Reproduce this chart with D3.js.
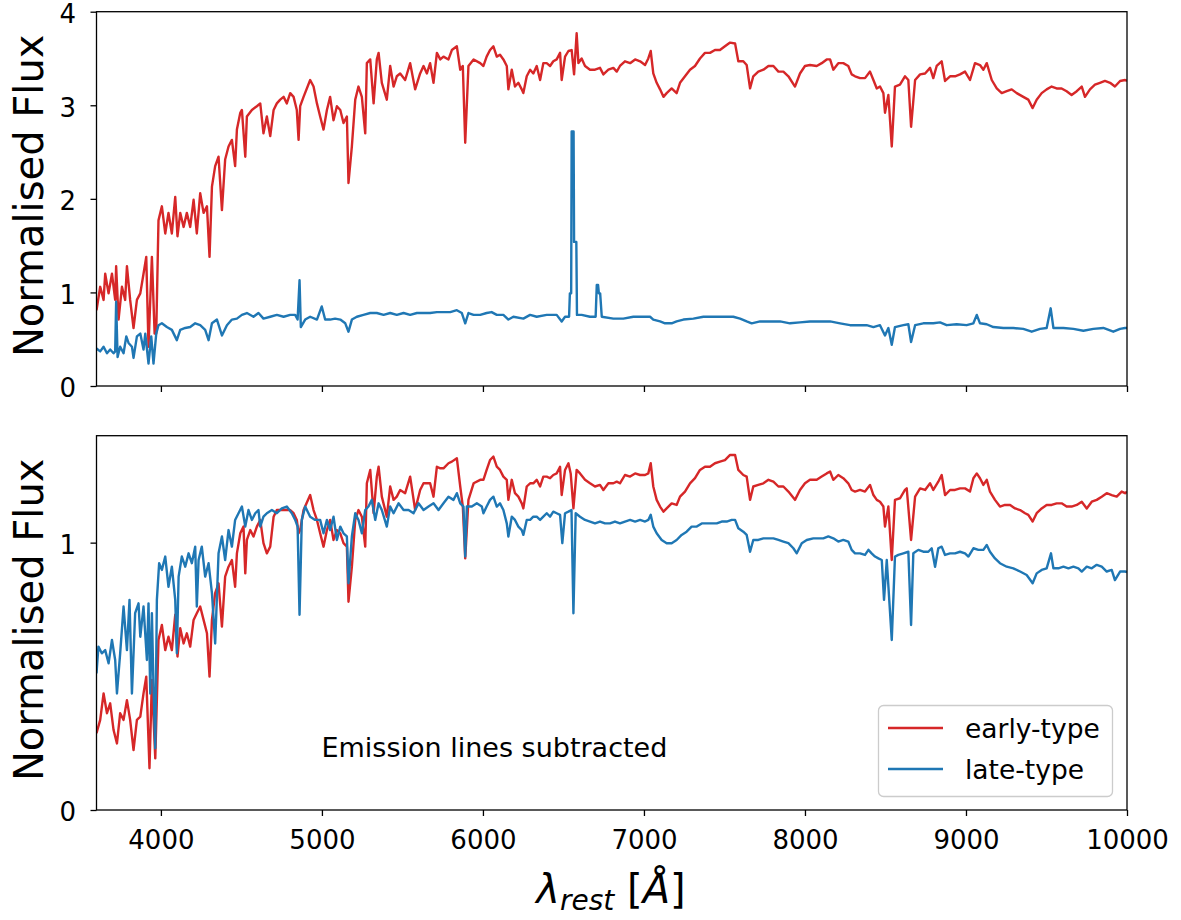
<!DOCTYPE html>
<html><head><meta charset="utf-8">
<script src="https://cdn.jsdelivr.net/npm/d3@7"></script>
<style>
body{margin:0;background:#fff;}
svg{display:block;font-family:"DejaVu Sans",sans-serif;}
</style></head><body>
<svg id="c" width="1181" height="920"></svg>
<script>
const xTicks=[4000,5000,6000,7000,8000,9000,10000];
const topYTicks=[0,1,2,3,4];
const botYTicks=[0,1];
const seriesNames=["early-type","late-type"];
const seriesColors=["#d62728","#1f77b4"];

// top panel: early-type (wavelength [A], normalised flux)
const earlyTop=[[3600,0.81],[3623,1.06],[3644,0.92],[3654,1.20],[3675,0.99],[3696,1.20],[3716,0.92],[3722,1.28],[3737,0.71],[3758,1.06],[3778,0.92],[3789,1.28],[3809,0.92],[3830,0.62],[3851,0.92],[3872,0.99],[3892,1.20],[3909,1.38],[3923,0.42],[3944,1.38],[3961,0.56],[3971,0.56],[3985,1.77],[4006,1.92],[4027,1.63],[4047,1.85],[4068,1.63],[4089,2.02],[4103,1.60],[4120,1.85],[4141,1.70],[4161,1.85],[4182,1.70],[4203,1.99],[4223,1.63],[4244,2.06],[4265,1.85],[4286,1.92],[4302,1.38],[4317,2.13],[4337,2.35],[4358,2.45],[4379,1.88],[4399,2.42],[4420,2.56],[4441,2.63],[4461,2.35],[4472,2.74],[4493,2.92],[4503,2.95],[4524,2.45],[4534,2.88],[4565,2.95],[4596,2.99],[4617,3.02],[4637,2.70],[4658,2.88],[4679,2.67],[4700,2.95],[4720,3.02],[4741,3.06],[4762,3.09],[4782,3.02],[4803,3.13],[4824,3.09],[4844,2.95],[4855,2.63],[4865,2.99],[4886,3.09],[4927,3.27],[4948,3.20],[4969,3.02],[4989,2.88],[5010,2.74],[5031,2.95],[5051,3.09],[5072,2.84],[5093,2.99],[5114,2.95],[5134,2.81],[5155,2.88],[5165,2.17],[5186,2.56],[5207,3.06],[5227,3.20],[5248,3.09],[5269,2.70],[5279,3.45],[5300,3.49],[5321,3.02],[5341,3.49],[5352,3.56],[5372,3.24],[5403,3.06],[5424,3.42],[5445,3.20],[5465,3.31],[5486,3.34],[5517,3.27],[5548,3.45],[5579,3.17],[5610,3.34],[5631,3.42],[5652,3.34],[5672,3.45],[5693,3.24],[5714,3.56],[5735,3.49],[5755,3.52],[5786,3.49],[5807,3.59],[5838,3.63],[5859,3.38],[5875,3.42],[5890,2.60],[5910,3.42],[5942,3.49],[5983,3.45],[6003,3.42],[6023,3.52],[6044,3.59],[6065,3.63],[6086,3.52],[6106,3.54],[6127,3.49],[6148,3.42],[6158,3.17],[6179,3.38],[6199,3.20],[6220,3.24],[6241,3.17],[6251,3.13],[6272,3.31],[6293,3.38],[6313,3.34],[6334,3.42],[6355,3.27],[6375,3.45],[6396,3.45],[6417,3.42],[6437,3.47],[6458,3.49],[6479,3.56],[6489,3.27],[6510,3.52],[6531,3.58],[6551,3.59],[6566,3.33],[6582,3.77],[6593,3.45],[6613,3.50],[6634,3.42],[6665,3.38],[6696,3.38],[6727,3.40],[6748,3.33],[6779,3.38],[6810,3.40],[6831,3.36],[6851,3.42],[6882,3.47],[6914,3.45],[6945,3.49],[6976,3.47],[7007,3.43],[7027,3.50],[7042,3.58],[7058,3.34],[7079,3.24],[7100,3.17],[7121,3.09],[7141,3.13],[7172,3.18],[7203,3.13],[7224,3.24],[7255,3.31],[7286,3.38],[7317,3.42],[7348,3.50],[7379,3.56],[7410,3.56],[7441,3.59],[7472,3.59],[7503,3.63],[7535,3.67],[7566,3.66],[7586,3.47],[7617,3.47],[7638,3.43],[7659,3.18],[7679,3.31],[7710,3.36],[7742,3.38],[7773,3.42],[7804,3.42],[7835,3.36],[7866,3.36],[7897,3.31],[7938,3.20],[7969,3.34],[8000,3.42],[8031,3.43],[8073,3.42],[8104,3.45],[8135,3.49],[8156,3.49],[8176,3.38],[8207,3.45],[8238,3.45],[8269,3.42],[8290,3.33],[8311,3.31],[8342,3.29],[8373,3.29],[8404,3.36],[8425,3.27],[8446,3.18],[8466,3.20],[8487,3.13],[8497,2.92],[8518,3.11],[8539,2.56],[8559,3.20],[8590,3.22],[8621,3.31],[8642,3.27],[8659,2.77],[8684,3.27],[8715,3.33],[8746,3.34],[8777,3.40],[8797,3.29],[8818,3.42],[8849,3.47],[8870,3.26],[8901,3.31],[8932,3.31],[8963,3.33],[8994,3.36],[9025,3.27],[9056,3.45],[9087,3.43],[9108,3.38],[9129,3.45],[9160,3.27],[9191,3.18],[9222,3.13],[9253,3.15],[9284,3.17],[9315,3.13],[9356,3.09],[9387,3.06],[9414,2.97],[9439,3.06],[9470,3.13],[9501,3.17],[9532,3.20],[9563,3.18],[9594,3.18],[9625,3.15],[9656,3.11],[9688,3.15],[9719,3.20],[9739,3.09],[9770,3.17],[9801,3.22],[9832,3.24],[9863,3.26],[9895,3.24],[9925,3.20],[9957,3.26],[9988,3.27],[10000,3.26]];

// top panel: late-type
const lateTop=[[3600,0.40],[3623,0.37],[3644,0.42],[3665,0.35],[3685,0.39],[3706,0.35],[3716,0.37],[3722,0.90],[3731,0.31],[3747,0.42],[3768,0.35],[3785,0.53],[3799,0.46],[3820,0.42],[3830,0.30],[3851,0.53],[3872,0.56],[3892,0.39],[3903,0.56],[3923,0.24],[3940,0.53],[3954,0.24],[3971,0.56],[3985,0.65],[4006,0.67],[4037,0.63],[4068,0.60],[4099,0.49],[4120,0.60],[4151,0.62],[4182,0.63],[4213,0.67],[4244,0.65],[4275,0.60],[4296,0.49],[4317,0.67],[4348,0.71],[4379,0.54],[4410,0.65],[4441,0.71],[4472,0.72],[4503,0.76],[4534,0.78],[4575,0.74],[4606,0.78],[4637,0.72],[4679,0.74],[4720,0.76],[4762,0.74],[4803,0.76],[4834,0.76],[4849,0.71],[4861,1.13],[4869,0.63],[4896,0.71],[4927,0.74],[4969,0.71],[4999,0.85],[5020,0.71],[5051,0.71],[5082,0.72],[5114,0.71],[5145,0.67],[5165,0.58],[5186,0.71],[5217,0.74],[5258,0.76],[5300,0.78],[5341,0.78],[5383,0.76],[5424,0.78],[5465,0.76],[5507,0.78],[5548,0.76],[5590,0.78],[5631,0.78],[5672,0.78],[5714,0.79],[5755,0.79],[5797,0.79],[5838,0.81],[5869,0.78],[5890,0.67],[5910,0.78],[5942,0.76],[5983,0.76],[6023,0.78],[6054,0.79],[6086,0.76],[6127,0.76],[6158,0.71],[6189,0.74],[6251,0.72],[6293,0.76],[6334,0.74],[6396,0.76],[6458,0.76],[6489,0.69],[6510,0.74],[6535,0.74],[6540,0.99],[6548,0.99],[6551,2.72],[6563,2.72],[6566,1.54],[6580,1.54],[6584,0.76],[6613,0.76],[6665,0.74],[6700,0.74],[6707,1.08],[6715,1.08],[6720,0.99],[6728,0.99],[6738,0.74],[6810,0.72],[6872,0.72],[6934,0.74],[6996,0.74],[7038,0.74],[7058,0.71],[7100,0.69],[7131,0.67],[7172,0.67],[7203,0.69],[7245,0.71],[7307,0.72],[7369,0.74],[7431,0.74],[7493,0.74],[7555,0.74],[7597,0.72],[7638,0.69],[7669,0.67],[7721,0.69],[7783,0.69],[7845,0.69],[7907,0.67],[7969,0.68],[8031,0.69],[8093,0.69],[8156,0.69],[8218,0.67],[8280,0.65],[8342,0.65],[8383,0.65],[8425,0.63],[8466,0.65],[8497,0.54],[8518,0.62],[8539,0.44],[8559,0.63],[8611,0.65],[8642,0.66],[8659,0.47],[8684,0.65],[8735,0.67],[8797,0.67],[8839,0.68],[8880,0.65],[8942,0.66],[9004,0.65],[9046,0.67],[9067,0.76],[9087,0.67],[9129,0.66],[9170,0.63],[9232,0.62],[9294,0.62],[9356,0.61],[9408,0.58],[9460,0.61],[9501,0.62],[9526,0.83],[9543,0.62],[9605,0.62],[9667,0.61],[9729,0.59],[9791,0.61],[9853,0.62],[9915,0.58],[9957,0.61],[9988,0.62],[10000,0.62]];

// bottom panel (emission lines subtracted): early-type
const earlyBottom=[[3600,0.287],[3623,0.337],[3644,0.436],[3665,0.362],[3685,0.399],[3706,0.299],[3727,0.249],[3747,0.362],[3768,0.337],[3789,0.411],[3809,0.337],[3830,0.224],[3851,0.337],[3872,0.349],[3892,0.436],[3909,0.499],[3929,0.156],[3944,0.486],[3965,0.193],[3985,0.636],[4006,0.692],[4027,0.598],[4047,0.648],[4068,0.598],[4089,0.730],[4103,0.574],[4120,0.680],[4141,0.623],[4161,0.661],[4182,0.611],[4203,0.711],[4223,0.736],[4244,0.761],[4265,0.711],[4286,0.661],[4302,0.499],[4317,0.711],[4337,0.811],[4358,0.848],[4379,0.686],[4399,0.873],[4420,0.910],[4441,0.935],[4461,0.835],[4472,0.960],[4493,1.035],[4513,1.060],[4524,0.885],[4534,1.010],[4555,1.047],[4575,1.023],[4596,1.060],[4617,1.085],[4637,0.998],[4658,0.960],[4679,0.985],[4700,1.097],[4720,1.122],[4762,1.122],[4803,1.122],[4824,1.110],[4844,1.085],[4855,1.035],[4865,1.047],[4886,1.122],[4927,1.178],[4948,1.122],[4969,1.085],[4989,1.035],[5010,0.985],[5031,1.047],[5051,1.085],[5072,1.010],[5093,1.047],[5114,1.035],[5134,0.998],[5155,0.985],[5165,0.779],[5186,0.910],[5207,1.085],[5227,1.122],[5248,1.097],[5269,0.985],[5279,1.222],[5300,1.272],[5321,1.110],[5341,1.247],[5352,1.284],[5372,1.172],[5403,1.097],[5424,1.210],[5445,1.160],[5465,1.172],[5486,1.197],[5517,1.185],[5548,1.247],[5579,1.122],[5610,1.197],[5631,1.222],[5652,1.222],[5672,1.222],[5693,1.172],[5714,1.284],[5735,1.278],[5755,1.278],[5786,1.297],[5807,1.303],[5838,1.316],[5859,1.210],[5875,1.135],[5890,0.941],[5910,1.160],[5942,1.222],[5983,1.235],[6003,1.235],[6023,1.272],[6044,1.309],[6065,1.322],[6086,1.284],[6106,1.272],[6127,1.247],[6148,1.235],[6158,1.160],[6179,1.235],[6199,1.185],[6220,1.172],[6241,1.147],[6251,1.128],[6272,1.210],[6293,1.222],[6313,1.222],[6334,1.235],[6355,1.210],[6375,1.247],[6396,1.247],[6417,1.241],[6437,1.253],[6458,1.259],[6479,1.284],[6489,1.178],[6510,1.272],[6531,1.297],[6545,1.259],[6562,1.128],[6582,1.272],[6603,1.259],[6634,1.235],[6665,1.222],[6696,1.210],[6727,1.216],[6748,1.197],[6779,1.222],[6810,1.222],[6831,1.228],[6851,1.222],[6882,1.253],[6914,1.247],[6945,1.259],[6976,1.253],[7007,1.253],[7027,1.259],[7042,1.297],[7058,1.210],[7079,1.160],[7100,1.135],[7121,1.116],[7141,1.128],[7172,1.147],[7203,1.141],[7224,1.172],[7255,1.191],[7286,1.222],[7317,1.241],[7348,1.272],[7379,1.284],[7410,1.284],[7441,1.297],[7472,1.303],[7503,1.309],[7535,1.328],[7566,1.328],[7586,1.272],[7617,1.253],[7638,1.247],[7659,1.160],[7679,1.210],[7710,1.216],[7742,1.222],[7773,1.235],[7804,1.228],[7835,1.210],[7866,1.210],[7897,1.191],[7938,1.160],[7969,1.197],[8000,1.222],[8031,1.235],[8073,1.235],[8104,1.247],[8135,1.259],[8156,1.266],[8176,1.235],[8207,1.253],[8238,1.241],[8269,1.222],[8290,1.197],[8311,1.191],[8342,1.197],[8373,1.191],[8404,1.216],[8425,1.178],[8446,1.160],[8466,1.153],[8487,1.135],[8497,1.060],[8518,1.135],[8539,0.935],[8559,1.160],[8590,1.166],[8621,1.197],[8632,1.203],[8659,1.010],[8684,1.172],[8715,1.203],[8746,1.197],[8777,1.222],[8797,1.197],[8828,1.228],[8849,1.253],[8870,1.178],[8901,1.197],[8932,1.197],[8963,1.203],[8994,1.203],[9025,1.191],[9046,1.241],[9067,1.259],[9087,1.241],[9108,1.216],[9129,1.235],[9149,1.191],[9180,1.160],[9211,1.135],[9242,1.141],[9274,1.141],[9305,1.128],[9336,1.122],[9367,1.110],[9387,1.104],[9414,1.079],[9439,1.110],[9470,1.128],[9501,1.141],[9532,1.141],[9563,1.147],[9594,1.147],[9625,1.135],[9656,1.135],[9688,1.141],[9719,1.153],[9750,1.128],[9781,1.153],[9812,1.160],[9843,1.172],[9874,1.185],[9905,1.178],[9936,1.172],[9967,1.191],[9988,1.185],[10000,1.19]];

// bottom panel (emission lines subtracted): late-type
const lateBottom=[[3600,0.511],[3612,0.611],[3633,0.586],[3654,0.598],[3675,0.549],[3696,0.636],[3716,0.561],[3727,0.436],[3747,0.586],[3768,0.761],[3789,0.598],[3805,0.786],[3820,0.436],[3840,0.736],[3861,0.773],[3872,0.648],[3892,0.761],[3913,0.561],[3923,0.773],[3934,0.436],[3944,0.736],[3954,0.461],[3965,0.231],[3975,0.786],[3989,0.923],[4006,0.898],[4027,0.948],[4047,0.835],[4068,0.910],[4089,0.786],[4099,0.586],[4110,0.873],[4130,0.948],[4151,0.910],[4172,0.960],[4192,0.923],[4213,0.985],[4223,0.761],[4234,0.935],[4254,0.985],[4275,0.873],[4296,0.923],[4317,0.811],[4337,0.623],[4358,0.960],[4379,1.023],[4399,0.935],[4420,1.047],[4441,0.985],[4461,1.085],[4482,1.110],[4503,1.135],[4524,1.060],[4544,1.122],[4565,1.085],[4586,1.110],[4606,1.122],[4617,1.060],[4637,1.097],[4658,1.110],[4689,1.122],[4720,1.110],[4751,1.128],[4782,1.135],[4813,1.110],[4834,1.085],[4849,1.060],[4861,0.730],[4875,1.085],[4896,1.135],[4927,1.097],[4958,1.085],[4989,1.085],[5010,1.035],[5031,1.085],[5051,1.047],[5072,1.097],[5093,1.010],[5114,1.060],[5134,1.035],[5155,1.023],[5165,0.848],[5186,1.023],[5207,1.110],[5227,1.085],[5248,1.035],[5269,1.122],[5289,1.135],[5310,1.160],[5331,1.085],[5352,1.147],[5372,1.122],[5403,1.060],[5424,1.135],[5445,1.110],[5476,1.147],[5507,1.122],[5538,1.122],[5569,1.110],[5600,1.147],[5631,1.122],[5662,1.135],[5693,1.147],[5724,1.122],[5755,1.147],[5786,1.172],[5817,1.160],[5838,1.185],[5859,1.147],[5879,1.135],[5890,0.948],[5900,1.135],[5931,1.135],[5962,1.147],[5993,1.135],[6003,1.110],[6023,1.135],[6044,1.160],[6065,1.172],[6086,1.135],[6106,1.147],[6127,1.122],[6148,1.072],[6158,1.023],[6179,1.097],[6199,1.085],[6220,1.060],[6241,1.047],[6251,1.029],[6272,1.085],[6293,1.085],[6313,1.097],[6334,1.097],[6355,1.085],[6375,1.097],[6396,1.110],[6417,1.097],[6437,1.116],[6458,1.110],[6479,1.104],[6493,0.998],[6510,1.110],[6531,1.116],[6550,1.122],[6562,0.736],[6576,1.110],[6603,1.097],[6634,1.085],[6665,1.079],[6696,1.072],[6727,1.079],[6758,1.072],[6789,1.072],[6820,1.079],[6851,1.072],[6882,1.079],[6914,1.085],[6945,1.079],[6976,1.085],[7007,1.079],[7027,1.085],[7042,1.104],[7058,1.060],[7079,1.035],[7110,1.010],[7141,0.998],[7172,0.998],[7203,1.010],[7234,1.029],[7265,1.041],[7296,1.060],[7328,1.060],[7359,1.072],[7390,1.072],[7421,1.072],[7452,1.072],[7483,1.079],[7514,1.079],[7545,1.085],[7566,1.085],[7586,1.054],[7617,1.041],[7638,1.029],[7659,0.966],[7679,1.010],[7710,1.010],[7742,1.016],[7773,1.016],[7804,1.016],[7835,1.010],[7866,1.004],[7897,0.998],[7928,0.979],[7949,0.960],[7980,0.998],[8011,1.010],[8052,1.016],[8083,1.016],[8114,1.016],[8145,1.023],[8176,1.016],[8207,1.004],[8238,1.010],[8269,1.004],[8290,0.973],[8311,0.960],[8342,0.960],[8373,0.954],[8394,0.973],[8414,0.960],[8435,0.948],[8456,0.941],[8477,0.935],[8491,0.786],[8508,0.935],[8539,0.636],[8559,0.948],[8580,0.954],[8611,0.960],[8642,0.966],[8659,0.692],[8673,0.960],[8704,0.973],[8735,0.966],[8766,0.966],[8787,0.979],[8808,0.910],[8828,0.979],[8849,0.985],[8870,0.954],[8901,0.960],[8932,0.960],[8963,0.966],[8994,0.960],[9015,0.948],[9046,0.979],[9077,0.973],[9108,0.973],[9129,0.991],[9149,0.966],[9180,0.941],[9211,0.923],[9253,0.910],[9294,0.904],[9336,0.892],[9377,0.879],[9414,0.848],[9439,0.885],[9470,0.898],[9501,0.904],[9528,0.960],[9543,0.904],[9574,0.904],[9605,0.910],[9636,0.904],[9667,0.910],[9698,0.904],[9719,0.892],[9750,0.910],[9781,0.904],[9812,0.917],[9843,0.910],[9874,0.892],[9905,0.898],[9925,0.860],[9957,0.892],[9988,0.892],[10000,0.89]];

const svg=d3.select('#c');
const x=d3.scaleLinear().domain([3600,10000]).range([96.5,1127]);
const panels=[
  {id:'top',y:d3.scaleLinear().domain([0,4]).range([386,11.7]),ticks:topYTicks,series:[earlyTop,lateTop],showX:false},
  {id:'bot',y:d3.scaleLinear().domain([0,1.4]).range([810,435.7]),ticks:botYTicks,series:[earlyBottom,lateBottom],showX:true}
];
const defs=svg.append('defs');
panels.forEach(p=>{
  const [y0,y1]=p.y.range();
  const [x0,x1]=x.range();
  defs.append('clipPath').attr('id','clip-'+p.id).append('rect')
    .attr('x',x0).attr('y',y1).attr('width',x1-x0).attr('height',y0-y1);
  const g=svg.append('g');
  const line=d3.line().x(d=>x(d[0])).y(d=>p.y(d[1]));
  p.series.forEach((s,i)=>{
    g.append('path').datum(s).attr('d',line)
      .attr('clip-path','url(#clip-'+p.id+')')
      .attr('fill','none').attr('stroke',seriesColors[i])
      .attr('stroke-width',2.4).attr('stroke-linejoin','round');
  });
  // axes
  const xa=d3.axisBottom(x).tickValues(xTicks).tickSize(6).tickPadding(15)
    .tickFormat(p.showX?d3.format('d'):()=> '');
  const gx=svg.append('g').attr('transform',`translate(0,${y0})`).call(xa);
  const ya=d3.axisLeft(p.y).tickValues(p.ticks).tickSize(6).tickPadding(14.5).tickFormat(d3.format('d'));
  const gy=svg.append('g').attr('transform',`translate(${x0},0)`).call(ya);
  gy.selectAll('.tick text').attr('dy','0.42em');
  [gx,gy].forEach(a=>{
    a.select('.domain').remove();
    a.selectAll('.tick line').attr('stroke','#000').attr('stroke-width',1.3);
    a.selectAll('.tick text').attr('fill','#000').style('font-size','26px').style('font-family','"DejaVu Sans"');
  });
  // frame
  svg.append('rect').attr('x',x0).attr('y',y1).attr('width',x1-x0).attr('height',y0-y1)
    .attr('fill','none').attr('stroke','#000').attr('stroke-width',1.3);
  // y label
  svg.append('text').attr('transform',`translate(43,${(y0+y1)/2-3}) rotate(-90)`)
    .attr('text-anchor','middle').style('font-size','40px').attr('fill','#000').text('Normalised Flux');
});

// annotation
svg.append('text').attr('x',321.5).attr('y',756.5).style('font-size','27px').attr('fill','#000')
  .text('Emission lines subtracted');

// x label
const xl=svg.append('text').attr('x',611).attr('y',903).attr('text-anchor','middle')
  .style('font-size','40px').attr('fill','#000');
xl.append('tspan').style('font-style','italic').text('λ');
xl.append('tspan').style('font-style','italic').style('font-size','28px').attr('dy',7).text('rest');
xl.append('tspan').attr('dy',-7).text(' [');
xl.append('tspan').style('font-style','italic').text('Å');
xl.append('tspan').text(']');

// legend
const lg=svg.append('g');
lg.append('rect').attr('x',878.5).attr('y',705.5).attr('width',234).attr('height',91).attr('rx',5)
  .attr('fill','#fff').attr('fill-opacity',0.8).attr('stroke','#cccccc').attr('stroke-width',1.3);
seriesNames.forEach((n,i)=>{
  const yy=728+i*41;
  lg.append('line').attr('x1',888).attr('x2',943).attr('y1',yy).attr('y2',yy)
    .attr('stroke',seriesColors[i]).attr('stroke-width',2.4);
  lg.append('text').attr('x',965).attr('y',yy+10).style('font-size','26.5px').attr('fill','#000').text(n);
});
</script>
</body></html>
